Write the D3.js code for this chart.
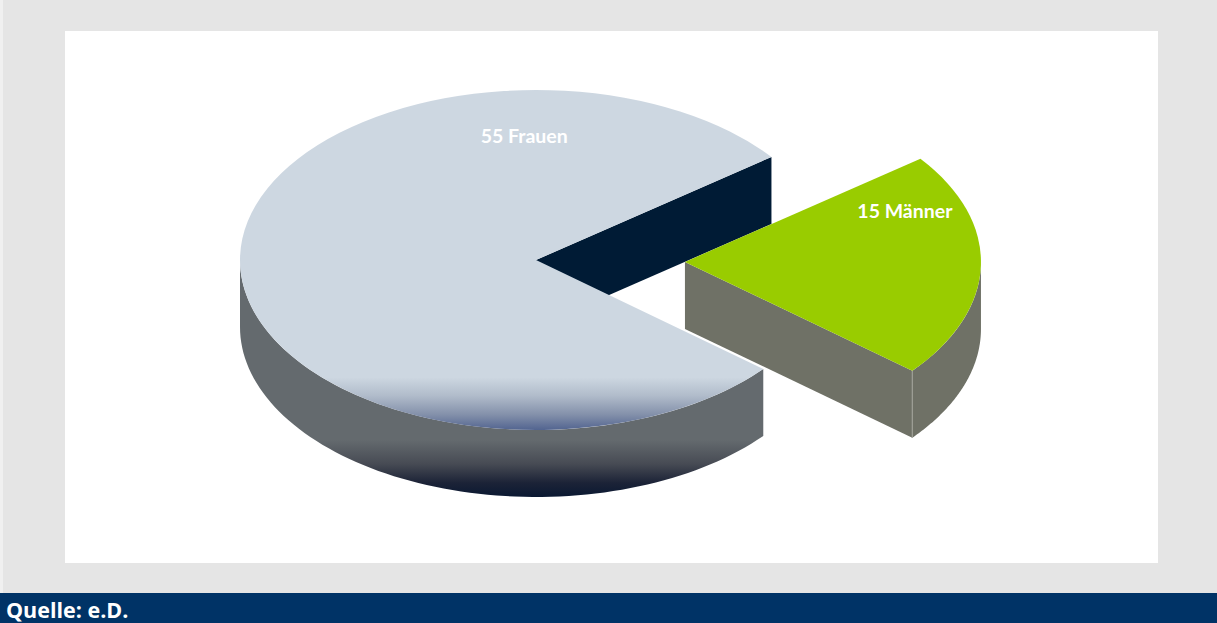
<!DOCTYPE html>
<html>
<head>
<meta charset="utf-8">
<script src="https://cdn.jsdelivr.net/npm/d3@7"></script>
<style>
  html, body { margin: 0; padding: 0; background: #e5e5e5; }
  svg { display: block; }
</style>
</head>
<body>
<script>
// Geschlechterverteilung (3D-Kreisdiagramm)
const categories = ["Frauen", "Männer"];
const values = [55, 15];
const labels = ["55 Frauen", "15 Männer"];
const source = "Quelle: e.D.";

const W = 1217, H = 623;
const svg = d3.select("body").append("svg").attr("width", W).attr("height", H);

// page frame
svg.append("rect").attr("x", 0).attr("y", 0).attr("width", W).attr("height", H).attr("fill", "#e5e5e5");
svg.append("rect").attr("x", 0).attr("y", 0).attr("width", 3).attr("height", 593).attr("fill", "#f0f0f0");
svg.append("rect").attr("x", 65).attr("y", 31).attr("width", 1093).attr("height", 532).attr("fill", "#ffffff");
svg.append("rect").attr("x", 0).attr("y", 593).attr("width", W).attr("height", 30).attr("fill", "#003366");
svg.append("text").attr("x", 6).attr("y", 618)
  .attr("font-family", "'Open Sans', sans-serif").attr("font-weight", 700)
  .attr("font-size", 21.5).attr("fill", "#ffffff").text(source);

// pie geometry
const cx = 536, cy = 260;   // centre of the top ellipse
const rx = 296, ry = 170;   // ellipse radii (tilted disc)
const depth = 67;           // thickness of the disc
const explode = 149;        // offset of the pulled-out slice

// angle scale: pie angle (clockwise from 12 o'clock) -> screen angle (clockwise from 3 o'clock)
const toScreen = d3.scaleLinear().domain([0, 2 * Math.PI]).range([-Math.PI / 2, 1.5 * Math.PI]);

const start = 129.84 * Math.PI / 180;
const pie = d3.pie().sort(null).startAngle(start).endAngle(start + 2 * Math.PI);
const arcs = pie(values);

const defs = svg.append("defs");
const gTop = defs.append("linearGradient").attr("id", "fTop")
  .attr("gradientUnits", "userSpaceOnUse").attr("x1", 0).attr("x2", 0)
  .attr("y1", cy - ry).attr("y2", cy + ry);
[[0, "#cdd7e1"], [0.845, "#cdd7e1"], [0.90, "#b0bbca"], [0.955, "#8390aa"], [1, "#526490"]]
  .forEach(([o, c]) => gTop.append("stop").attr("offset", o).attr("stop-color", c));
const gSide = defs.append("linearGradient").attr("id", "fSide")
  .attr("gradientUnits", "userSpaceOnUse").attr("x1", 0).attr("x2", 0)
  .attr("y1", cy).attr("y2", cy + ry + depth);
[[0, "#646a6e"], [0.76, "#646a6e"], [0.86, "#474b54"], [0.94, "#1c2337"], [1, "#0a1832"]]
  .forEach(([o, c]) => gSide.append("stop").attr("offset", o).attr("stop-color", c));

const styles = [
  { top: "url(#fTop)", wall: "url(#fSide)", cut: "#001b35", explode: 0 },
  { top: "#99cc00", wall: "#6f7166", cut: "#6f7166", explode: explode }
];

function P(ox, oy, a, z) { return [ox + rx * Math.cos(a), oy + ry * Math.sin(a) + z]; }

const g = svg.append("g");

arcs.forEach((d, i) => {
  const st = styles[i];
  const a0 = toScreen(d.startAngle), a1 = toScreen(d.endAngle);
  const mid = (a0 + a1) / 2;
  const ox = cx + st.explode * Math.cos(mid);
  const oy = cy + st.explode * Math.sin(mid) * (ry / rx);
  const grp = g.append("g");

  // visible radial cut faces
  [[a0, -Math.cos(a0) > 0], [a1, Math.cos(a1) > 0]].forEach(([a, vis]) => {
    if (!vis) return;
    const p = P(ox, oy, a, 0), q = P(ox, oy, a, depth);
    const path = d3.path();
    path.moveTo(ox, oy); path.lineTo(p[0], p[1]); path.lineTo(q[0], q[1]);
    path.lineTo(ox, oy + depth); path.closePath();
    grp.append("path").attr("d", path.toString()).attr("fill", st.cut);
  });

  // visible front wall (screen angles whose sine is positive)
  for (let k = -1; k <= 2; k++) {
    const b0 = Math.max(a0, 2 * Math.PI * k), b1 = Math.min(a1, 2 * Math.PI * k + Math.PI);
    if (b1 <= b0) continue;
    const n = 80;
    const pts = d3.range(n + 1).map(j => P(ox, oy, b0 + (b1 - b0) * j / n, 0));
    const bot = d3.range(n + 1).map(j => P(ox, oy, b1 - (b1 - b0) * j / n, depth));
    grp.append("path").attr("d", d3.line()(pts.concat(bot)) + "Z").attr("fill", st.wall);
    if (i === 1 && b1 === a1) {
      const p = P(ox, oy, a1, 0), q = P(ox, oy, a1, depth);
      grp.append("line").attr("x1", p[0]).attr("y1", p[1]).attr("x2", q[0]).attr("y2", q[1])
        .attr("stroke", "#a3a49b").attr("stroke-width", 1);
    }
  }

  // top face
  const p0 = P(ox, oy, a0, 0), p1 = P(ox, oy, a1, 0);
  const large = (a1 - a0) > Math.PI ? 1 : 0;
  grp.append("path")
    .attr("d", `M${ox},${oy}L${p0[0]},${p0[1]}A${rx},${ry} 0 ${large} 1 ${p1[0]},${p1[1]}Z`)
    .attr("fill", st.top);

  d.ox = ox; d.oy = oy;
});

// data labels
const labelPos = [
  d => [d.ox - 0.04 * rx, d.oy - 0.73 * ry],
  d => [d.ox + 0.743 * rx, d.oy - 0.3 * ry]
];
arcs.forEach((d, i) => {
  const [x, y] = labelPos[i](d);
  g.append("text").attr("x", x).attr("y", y)
    .attr("text-anchor", "middle").attr("dominant-baseline", "central")
    .attr("font-family", "Lato, 'Open Sans', sans-serif").attr("font-weight", 700)
    .attr("font-size", 19.5).attr("fill", "#ffffff").text(labels[i]);
});
</script>
</body>
</html>
